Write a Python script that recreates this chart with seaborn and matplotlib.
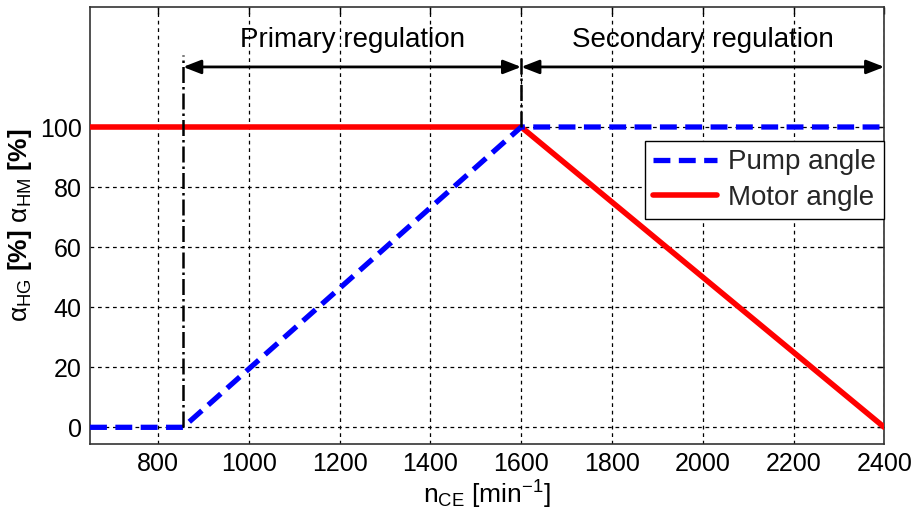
import matplotlib
matplotlib.use("Agg")
import matplotlib.pyplot as plt
import seaborn as sns
import pandas as pd

# Data
pump_speed = [650, 855, 1600, 2400]
pump_angle = [0, 0, 100, 100]
motor_speed = [650, 1600, 2400]
motor_angle = [100, 100, 0]
x_ticks = [800, 1000, 1200, 1400, 1600, 1800, 2000, 2200, 2400]
y_ticks = [0, 20, 40, 60, 80, 100]
region_bounds = [855, 1600, 2400]
region_labels = ["Primary regulation", "Secondary regulation"]

sns.set_theme(style="white")
plt.rcParams['font.family'] = ['Liberation Sans', 'DejaVu Sans']
plt.rcParams['mathtext.fontset'] = 'custom'
plt.rcParams['mathtext.rm'] = 'Liberation Sans'
plt.rcParams['mathtext.it'] = 'Liberation Sans:italic'
plt.rcParams['mathtext.bf'] = 'Liberation Sans:bold'

fig = plt.figure(figsize=(9.14, 5.29), dpi=100)
ax = fig.add_axes([0.0985, 0.161, 0.869, 0.826])

pump_df = pd.DataFrame({"speed": pump_speed, "angle": pump_angle})
motor_df = pd.DataFrame({"speed": motor_speed, "angle": motor_angle})

sns.lineplot(data=pump_df, x="speed", y="angle", ax=ax, color="#0000ff",
             linewidth=3.8, label="Pump angle", zorder=4, sort=False)
ax.lines[-1].set_dashes((3.2, 1.6))
sns.lineplot(data=motor_df, x="speed", y="angle", ax=ax, color="#ff0000",
             linewidth=4, label="Motor angle", zorder=3, sort=False)

ax.set_xlim(650, 2400)
ax.set_ylim(-5.5, 140)
ax.set_xticks(x_ticks)
ax.set_yticks(y_ticks)
ax.tick_params(direction="in", top=True, right=True, length=5, width=1,
               labelsize=18, colors="black", pad=6)
ax.grid(True, color="black", linestyle=(0, (3, 3)), linewidth=0.9)
for s in ax.spines.values():
    s.set_color("#333333")
    s.set_linewidth(1.2)

# vertical dash-dot markers
ax.plot([region_bounds[0], region_bounds[0]], [0, 124], color="black",
        linestyle="-.", linewidth=1.8, zorder=5)
ax.plot([region_bounds[1], region_bounds[1]], [100, 124], color="black",
        linestyle="-.", linewidth=1.8, zorder=5)

# arrows
for a, b, lab in zip(region_bounds[:-1], region_bounds[1:], region_labels):
    ax.annotate("", xy=(b, 120), xytext=(a, 120),
                arrowprops=dict(arrowstyle="<|-|>,head_length=0.9,head_width=0.35",
                                color="black", lw=2, shrinkA=0, shrinkB=0),
                annotation_clip=False)
    ax.text((a + b) / 2, 129, lab, ha="center", va="center", fontsize=20,
            color="black")

ax.set_xlabel(r"n$_{\rm CE}$ [min$^{-1}$]", fontsize=19, color="black", labelpad=2)
ax.set_ylabel(r"α$_{\rm HG}$ $\bf[\%]$ α$_{\rm HM}$ $\bf[\%]$", fontsize=19,
              color="black", labelpad=4)

leg = ax.legend(loc="upper right", bbox_to_anchor=(1.0, 0.693), fontsize=20,
                frameon=True, fancybox=False, edgecolor="black", framealpha=1,
                handlelength=2.3, borderpad=0.3, labelspacing=0.35,
                handletextpad=0.4, borderaxespad=0)
leg.get_frame().set_linewidth(1.0)

fig.savefig("out.png", dpi=100)
